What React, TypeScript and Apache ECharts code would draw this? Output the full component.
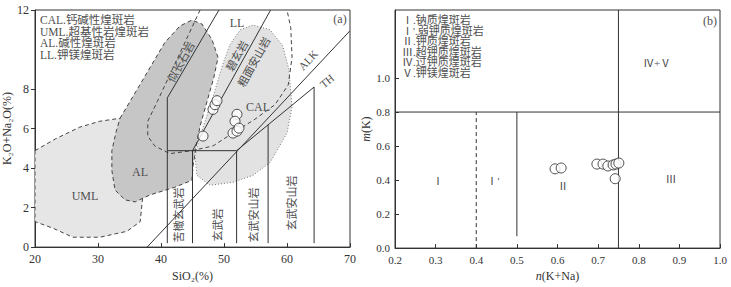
import React, { useEffect, useRef } from "react";
import * as echarts from "echarts";

// ---------- Panel (a) data ----------
const siTicks = [20, 30, 40, 50, 60, 70];
const alkTicks = [0, 2, 4, 6, 8, 12];
const umlField = [[20, 4.88], [23.2, 5.47], [27.1, 6.07], [30.3, 6.37], [33.5, 6.52], [35.1, 5.12], [36.7, 3.13], [37.1, 2.54], [36.7, 1.29], [34.6, 0.8], [30.3, 0.5], [26, 0.5], [22.9, 0.95], [20, 1.29]];
const alField = [[33.5, 6.52], [37.1, 8.46], [40.6, 10.35], [43, 11.19], [44.9, 11.49], [46.5, 11.29], [48.1, 10.5], [49.05, 9.6], [48.4, 8.6], [47.3, 7.36], [46.2, 6.12], [45.6, 5.12], [45.1, 4.13], [44.9, 3.38], [42.2, 3.03], [38.25, 2.64], [35.9, 2.29], [34.3, 2.39], [32.7, 2.89], [32.2, 3.88], [32.2, 4.88], [32.9, 5.87]];
const calField = [[50.95, 10.25], [52.6, 11.0], [54.6, 11.24], [57.3, 11.0], [59.3, 10.2], [60.3, 9.0], [60.8, 7.11], [60.0, 5.77], [57.3, 4.28], [54.6, 3.63], [51.4, 3.28], [47.8, 3.13], [45.7, 3.63], [45.4, 4.63], [46.2, 5.62], [48.25, 7.6], [49.8, 9.25]];
const llBoundary = [[46.2, 12], [44.3, 10.7], [41.6, 8.86], [39.4, 7.36], [37.9, 6.37], [37.9, 5.62], [39.0, 5.12], [41.4, 4.73], [44.9, 4.88], [48.25, 5.12], [51.4, 5.77], [54.9, 6.47], [58.1, 7.21], [60.2, 8.21], [60.8, 9.6], [60.6, 11.1], [60, 12]];
const tasLines = [
  [[41, 0.2], [41, 7.55], [49.2, 12]],
  [[41, 4.88], [52, 4.88]],
  [[45, 0.2], [45, 4.88], [57.4, 12]],
  [[52, 0.2], [52, 4.88]],
  [[57, 0.2], [57, 6.19]],
  [[52, 4.88], [64.3, 8.1], [64.3, 0.2]],
  [[37.8, 0], [70, 10.95]],
];
const samplesA = [[46.67, 5.62], [48.25, 6.97], [48.57, 7.21], [48.89, 7.41], [52.06, 6.72], [51.75, 6.37], [51.43, 5.77], [52.06, 5.87], [52.38, 6.02]];

// ---------- Panel (b) data ----------
const nTicks = [0.2, 0.3, 0.4, 0.5, 0.6, 0.7, 0.8, 0.9, 1.0];
const mTicks = [0, 0.2, 0.4, 0.6, 0.8, 1.0];
const bSolidLines = [
  [[0.2, 0.8], [1.0, 0.8]],
  [[0.5, 0.07], [0.5, 0.8]],
  [[0.75, 0], [0.75, 1.4]],
];
const bDashedLines = [[[0.4, 0], [0.4, 0.8]]];
const samplesB = [[0.594, 0.466], [0.609, 0.471], [0.697, 0.494], [0.712, 0.494], [0.724, 0.483], [0.737, 0.489], [0.744, 0.494], [0.751, 0.5], [0.742, 0.408]];

const legendA = ["CAL.钙碱性煌斑岩", "UML.超基性岩煌斑岩", "AL.碱性煌斑岩", "LL.钾镁煌斑岩"];
const legendB = ["Ⅰ.钠质煌斑岩", "Ⅰ'.弱钾质煌斑岩", "Ⅱ.钾质煌斑岩", "Ⅲ.超钾质煌斑岩", "Ⅳ.过钾质煌斑岩", "Ⅴ.钾镁煌斑岩"];

const FONT = "'Liberation Serif', 'Noto Sans CJK SC', serif";
const INK = "#333";
const TXT = "#505050";

function polygonSeries(points: number[][], idx: number, fill: string, stroke: string, dash: number[] | null, z: number) {
  return {
    type: "custom",
    xAxisIndex: idx,
    yAxisIndex: idx,
    clip: true,
    z,
    silent: true,
    data: [points[0]],
    renderItem: (_p: any, api: any) => ({
      type: "polygon",
      shape: { points: points.map((p) => api.coord(p)) },
      style: { fill, stroke, lineWidth: 1, lineDash: dash || undefined },
    }),
  };
}

function polylineSeries(points: number[][], idx: number, stroke: string, dash: number[] | null, z: number) {
  return {
    type: "custom",
    xAxisIndex: idx,
    yAxisIndex: idx,
    clip: true,
    z,
    silent: true,
    data: [points[0]],
    renderItem: (_p: any, api: any) => ({
      type: "polyline",
      shape: { points: points.map((p) => api.coord(p)) },
      style: { fill: null, stroke, lineWidth: 1, lineDash: dash || undefined },
    }),
  };
}

function txt(text: string, x: number, y: number, opts: any = {}) {
  return {
    type: "text",
    x,
    y,
    rotation: opts.rot ? (opts.rot * Math.PI) / 180 : 0,
    silent: true,
    z: 20,
    style: {
      text,
      fill: opts.color || TXT,
      font: `${opts.size || 11}px ${FONT}`,
      textAlign: opts.align || "center",
      textVerticalAlign: "middle",
    },
  };
}

export default function App() {
  const ref = useRef<HTMLDivElement>(null);
  useEffect(() => {
    document.body.style.margin = "0";
    const chart = echarts.init(ref.current!, null, { renderer: "svg" });
    const axisLabel = { color: INK, fontFamily: FONT };
    const option: any = {
      animation: false,
      grid: [
        { left: 35, top: 10, width: 315, height: 243, show: true, borderColor: INK, borderWidth: 1, backgroundColor: "transparent" },
        { left: 395, top: 10, width: 325, height: 244, show: true, borderColor: INK, borderWidth: 1, backgroundColor: "transparent" },
      ],
      xAxis: [
        {
          gridIndex: 0, type: "value", min: 20, max: 70, interval: 10,
          name: "SiO₂(%)", nameLocation: "middle", nameGap: 19,
          nameTextStyle: { color: INK, fontFamily: FONT, fontSize: 12 },
          axisLine: { show: true, lineStyle: { color: INK } },
          axisTick: { show: true, inside: true, length: 4, customValues: siTicks, lineStyle: { color: INK } },
          axisLabel: { ...axisLabel, fontSize: 12, margin: 6, customValues: siTicks },
          splitLine: { show: false },
        },
        {
          gridIndex: 1, type: "value", min: 0.2, max: 1.0, interval: 0.1,
          name: "{i|n}(K+Na)", nameLocation: "middle", nameGap: 18,
          nameTextStyle: { color: INK, fontFamily: FONT, fontSize: 12, rich: { i: { fontStyle: "italic", fontFamily: FONT, fontSize: 12, color: INK } } },
          axisLine: { show: true, lineStyle: { color: INK } },
          axisTick: { show: true, inside: true, length: 4, customValues: nTicks, lineStyle: { color: INK } },
          axisLabel: { ...axisLabel, fontSize: 11, margin: 6, customValues: nTicks, formatter: (v: number) => v.toFixed(1) },
          splitLine: { show: false },
        },
      ],
      yAxis: [
        {
          gridIndex: 0, type: "value", min: 0, max: 12, interval: 2,
          name: "K₂O+Na₂O(%)", nameLocation: "middle", nameGap: 14,
          nameTextStyle: { color: INK, fontFamily: FONT, fontSize: 12 },
          axisLine: { show: true, lineStyle: { color: INK } },
          axisTick: { show: true, inside: false, length: 4, customValues: alkTicks, lineStyle: { color: INK } },
          axisLabel: { ...axisLabel, fontSize: 12, margin: 6, customValues: alkTicks },
          splitLine: { show: false },
        },
        {
          gridIndex: 1, type: "value", min: 0, max: 1.4, interval: 0.2,
          name: "{i|m}(K)", nameLocation: "middle", nameGap: 22,
          nameTextStyle: { color: INK, fontFamily: FONT, fontSize: 12, rich: { i: { fontStyle: "italic", fontFamily: FONT, fontSize: 12, color: INK } } },
          axisLine: { show: true, lineStyle: { color: INK } },
          axisTick: { show: true, inside: true, length: 4, customValues: mTicks, lineStyle: { color: INK } },
          axisLabel: { ...axisLabel, fontSize: 11, margin: 5, customValues: mTicks, formatter: (v: number) => v.toFixed(1) },
          splitLine: { show: false },
        },
      ],
      series: [
        polygonSeries(umlField, 0, "#e6e6e6", "#444", [4, 3], 1),
        polygonSeries(alField, 0, "#c6c6c6", "#444", [4, 3], 2),
        polygonSeries(calField, 0, "#e2e2e2", "#777", [1, 2], 3),
        polylineSeries(llBoundary, 0, "#444", [4, 3], 4),
        ...tasLines.map((l) => polylineSeries(l, 0, INK, null, 5)),
        {
          type: "scatter", xAxisIndex: 0, yAxisIndex: 0, z: 10, data: samplesA,
          symbol: "circle", symbolSize: 10,
          itemStyle: { color: "#fff", borderColor: "#222", borderWidth: 1 },
        },
        ...bSolidLines.map((l) => polylineSeries(l, 1, INK, null, 5)),
        ...bDashedLines.map((l) => polylineSeries(l, 1, INK, [4, 3], 5)),
        {
          type: "scatter", xAxisIndex: 1, yAxisIndex: 1, z: 10, data: samplesB,
          symbol: "circle", symbolSize: 10,
          itemStyle: { color: "#fff", borderColor: "#222", borderWidth: 1 },
        },
      ],
      graphic: [
        ...legendA.map((t, i) => txt(t, 40, 20 + i * 11.5, { align: "left", size: 11.5 })),
        ...legendB.map((t, i) => txt(t, 402, 20 + i * 10.5, { align: "left", size: 11 })),
        txt("(a)", 340, 19, { size: 12 }),
        txt("(b)", 710, 21, { size: 12 }),
        txt("UML", 85, 196, { size: 12 }),
        txt("AL", 140, 172, { size: 12 }),
        txt("LL", 237, 23, { size: 12 }),
        txt("CAL", 258, 107, { size: 12 }),
        txt("ALK", 308, 60, { size: 11, rot: 47 }),
        txt("TH", 327, 81, { size: 11, rot: 40 }),
        txt("似长石岩", 181, 62, { size: 11, rot: 61 }),
        txt("碧玄岩", 237, 56, { size: 11, rot: 61 }),
        txt("粗面安山岩", 254, 62, { size: 11, rot: 61 }),
        txt("苦橄玄武岩", 179, 215, { size: 11, rot: 90 }),
        txt("玄武岩", 218, 225, { size: 11, rot: 90 }),
        txt("玄武安山岩", 254, 215, { size: 11, rot: 90 }),
        txt("玄武安山岩", 292, 203, { size: 11, rot: 90 }),
        txt("Ⅰ", 438, 181, { size: 11 }),
        txt("Ⅰ'", 493, 181, { size: 11 }),
        txt("Ⅱ", 563, 186, { size: 11 }),
        txt("Ⅲ", 671, 179, { size: 11 }),
        txt("Ⅳ+Ⅴ", 657, 63, { size: 11 }),
      ],
    };
    chart.setOption(option);
    return () => chart.dispose();
  }, []);
  return <div ref={ref} style={{ width: 731, height: 287 }} />;
}
